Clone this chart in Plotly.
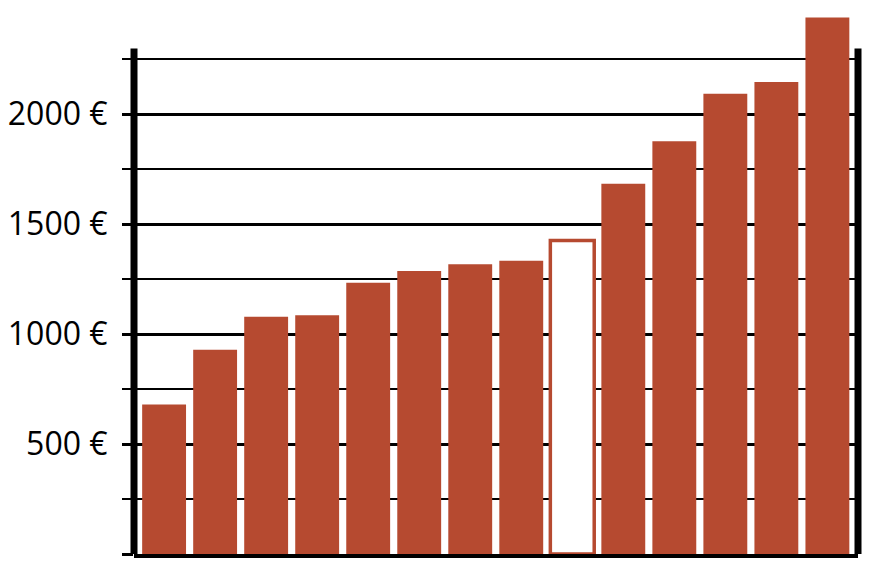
import plotly.graph_objects as go

categories = [f"c{i}" for i in range(1, 15)]
values = [680, 928, 1078, 1085, 1233, 1287, 1317, 1333, 1425, 1683, 1876, 2092, 2146, 2439]
highlight_index = 8
major_ticks = [0, 500, 1000, 1500, 2000]
major_labels = ["", "500 €", "1000 €", "1500 €", "2000 €"]
minor_ticks = [250, 750, 1250, 1750, 2250]

RUST = "#B64A30"
fills = [("white" if i == highlight_index else RUST) for i in range(len(values))]
line_w = [(3.5 if i == highlight_index else 0) for i in range(len(values))]

fig = go.Figure(go.Bar(
    x=list(range(len(categories))),
    y=values,
    width=0.86,
    marker=dict(color=fills, line=dict(color=RUST, width=line_w)),
    hovertext=categories,
))

fig.update_layout(
    width=864, height=562,
    margin=dict(l=122, r=14, t=0, b=16),
    paper_bgcolor="white", plot_bgcolor="white",
    showlegend=False,
    xaxis=dict(range=[-0.59, 13.6], showticklabels=False, showgrid=False,
               zeroline=False, showline=True, linecolor="black", linewidth=4,
               ticks=""),
    yaxis=dict(range=[0, 2482], tickmode="array", tickvals=major_ticks,
               ticktext=major_labels, ticks="outside", ticklen=11,
               tickwidth=3, tickcolor="black", showgrid=True,
               gridcolor="black", gridwidth=3, zeroline=False,
               showline=False,
               tickfont=dict(family="Open Sans", size=32, color="black"),
               ticklabelstandoff=8,
               minor=dict(tickmode="array", tickvals=minor_ticks,
                          ticks="outside", ticklen=11, tickwidth=2,
                          tickcolor="black", showgrid=True,
                          gridcolor="black", gridwidth=2)),
)

axis_top = 2298
for xp in (0, 1):
    fig.add_shape(type="line", xref="paper", yref="y", x0=xp, x1=xp,
                  y0=0, y1=axis_top, line=dict(color="black", width=7),
                  layer="above")

fig.write_html("out.html")
